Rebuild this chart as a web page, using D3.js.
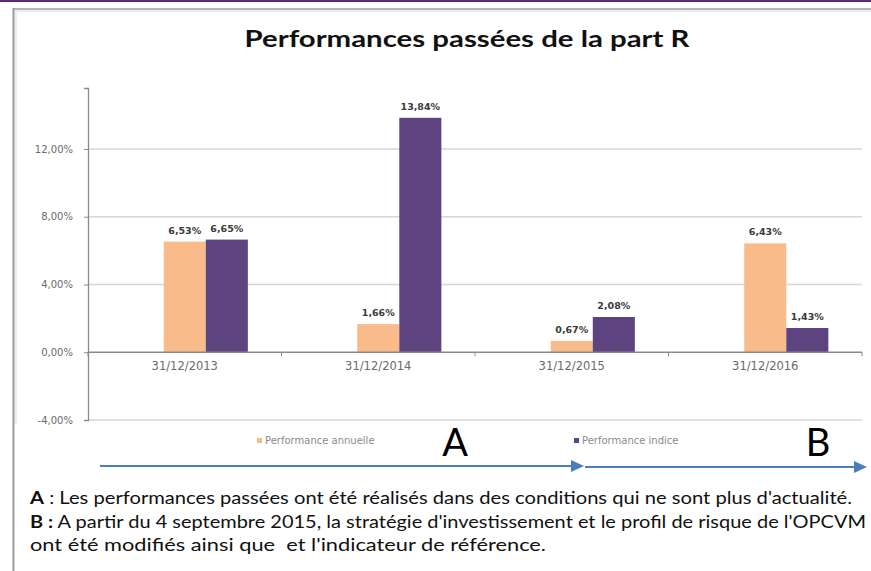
<!DOCTYPE html>
<html><head><meta charset="utf-8">
<script src="https://cdn.jsdelivr.net/npm/d3@7"></script>
<style>body{margin:0;background:#fff}svg{display:block}</style>
</head><body>
<svg id="c" width="871" height="571"></svg>
<script>
const categories = ["31/12/2013", "31/12/2014", "31/12/2015", "31/12/2016"];
const perfAnnuelle = [6.53, 1.66, 0.67, 6.43];
const perfIndice = [6.65, 13.84, 2.08, 1.43];
const seriesNames = ["Performance annuelle", "Performance indice"];
const yTicks = [-4, 0, 4, 8, 12];
const titleText = "Performances passées de la part R";
const notes = [
  ["A", " : Les performances passées ont été réalisés dans des conditions qui ne sont plus d'actualité."],
  ["B :", " A partir du 4 septembre 2015, la stratégie d'investissement et le profil de risque de l'OPCVM"],
  ["", "ont été modifiés ainsi que  et l'indicateur de référence."]
];

const colors = {annuelle: "#f9bb89", indice: "#5d4380"};
const svg = d3.select("#c");
const loc = d3.formatLocale({decimal: ",", thousands: " ", grouping: [3], currency: ["", "€"], minus: "-"});
const fmt = v => loc.format(".2f")(v) + "%";

// top purple band & frame
svg.append("rect").attr("x", 0).attr("y", 0).attr("width", 871).attr("height", 2).attr("fill", "#5a2a80");
svg.append("line").attr("x1", 13).attr("x2", 871).attr("y1", 9).attr("y2", 9).attr("stroke", "#b5b5b5").attr("stroke-width", 2);
svg.append("line").attr("x1", 13).attr("x2", 871).attr("y1", 11).attr("y2", 11).attr("stroke", "#ececec").attr("stroke-width", 2);
svg.append("line").attr("x1", 13.5).attr("x2", 13.5).attr("y1", 8).attr("y2", 571).attr("stroke", "#9a9a9a").attr("stroke-width", 2);
svg.append("line").attr("x1", 16).attr("x2", 16).attr("y1", 10).attr("y2", 424).attr("stroke", "#eeeeee").attr("stroke-width", 2);

// title
svg.append("text").text(titleText)
  .attr("x", 467).attr("y", 47).attr("text-anchor", "middle")
  .attr("font-family", "Lato, 'Open Sans', sans-serif").attr("font-weight", "bold")
  .attr("font-size", 23).attr("fill", "#111")
  .attr("textLength", 445).attr("lengthAdjust", "spacingAndGlyphs");

// scales
const plotL = 88, plotR = 862;
const y = d3.scaleLinear().domain([-4, 15.6]).range([420, 88]);
const x0 = d3.scaleBand().domain(categories).range([plotL, plotR]).paddingInner(0).paddingOuter(0);
const x1 = d3.scaleBand().domain(["_", "annuelle", "indice"]).range([0, x0.bandwidth()]).paddingInner(0).paddingOuter(0.8);

// gridlines
svg.append("g").selectAll("line").data(yTicks.filter(t => t !== 0)).join("line")
  .attr("x1", plotL).attr("x2", plotR)
  .attr("y1", d => y(d)).attr("y2", d => y(d))
  .attr("stroke", "#d6d6d6").attr("stroke-width", 1.5);

// y axis
const yAxis = svg.append("g").attr("transform", `translate(${plotL},0)`)
  .call(d3.axisLeft(y).tickValues(yTicks).tickFormat(fmt).tickSize(4).tickPadding(11));
yAxis.select(".domain").attr("stroke", "#8a8a8a").attr("stroke-width", 1.3);
yAxis.selectAll(".tick line").attr("stroke", "#8a8a8a");
yAxis.selectAll(".tick text").attr("font-family", "'DejaVu Sans', Verdana, sans-serif")
  .attr("font-size", 10).attr("fill", "#6a6a6a");

// bars
const rows = categories.map((c, i) => ({cat: c, annuelle: perfAnnuelle[i], indice: perfIndice[i]}));
const g = svg.append("g");
rows.forEach(r => {
  ["annuelle", "indice"].forEach(k => {
    const v = r[k];
    const bx = x0(r.cat) + x1(k);
    g.append("rect").attr("x", bx).attr("width", x1.bandwidth())
      .attr("y", y(Math.max(0, v))).attr("height", Math.abs(y(v) - y(0)))
      .attr("fill", colors[k]);
    g.append("text").text(fmt(v))
      .attr("x", bx + x1.bandwidth() / 2).attr("y", y(v) - 8)
      .attr("text-anchor", "middle")
      .attr("font-family", "'DejaVu Sans', Verdana, sans-serif").attr("font-weight", "bold")
      .attr("font-size", 9.5).attr("fill", "#3a3a3a");
  });
});

// x axis at 0
svg.append("line").attr("x1", plotL).attr("x2", plotR).attr("y1", y(0)).attr("y2", y(0))
  .attr("stroke", "#8a8a8a").attr("stroke-width", 1.3);
const bounds = categories.map(c => x0(c)).concat([x0.range()[1]]);
svg.append("g").selectAll("line").data(bounds).join("line")
  .attr("x1", d => d).attr("x2", d => d).attr("y1", y(0)).attr("y2", y(0) + 4)
  .attr("stroke", "#8a8a8a");
const xAxis = svg.append("g").attr("transform", `translate(0,${y(0)})`)
  .call(d3.axisBottom(x0).tickSize(0).tickPadding(10));
xAxis.select(".domain").remove();
xAxis.selectAll(".tick text").attr("font-family", "'DejaVu Sans', Verdana, sans-serif")
  .attr("font-size", 11.5).attr("fill", "#6a6a6a");

// legend
const legendX = [257, 574];
["annuelle", "indice"].forEach((k, i) => {
  svg.append("rect").attr("x", legendX[i]).attr("y", 438).attr("width", 5).attr("height", 5).attr("fill", colors[k]);
  svg.append("text").text(seriesNames[i]).attr("x", legendX[i] + 8).attr("y", 444)
    .attr("font-family", "'DejaVu Sans', Verdana, sans-serif").attr("font-size", 10)
    .attr("fill", "#8a8a8a");
});

// big letters
[["A", 455], ["B", 818]].forEach(([t, x]) => {
  svg.append("text").text(t).attr("x", x).attr("y", 456).attr("text-anchor", "middle")
    .attr("font-family", "Lato, 'Open Sans', sans-serif").attr("font-size", 38).attr("fill", "#000");
});

// arrows
const arrowColor = "#4a7ebb";
[[100, 584, 466], [585, 867, 467]].forEach(([xa, xb, yy]) => {
  svg.append("line").attr("x1", xa).attr("x2", xb - 12).attr("y1", yy).attr("y2", yy)
    .attr("stroke", arrowColor).attr("stroke-width", 2);
  svg.append("path").attr("d", `M${xb - 13},${yy - 6}L${xb},${yy}L${xb - 13},${yy + 6}Z`).attr("fill", arrowColor);
});

// notes
const noteY = [504, 528, 551];
const noteW = [822, 836, 516];
notes.forEach((n, i) => {
  const t = svg.append("text").attr("x", 30).attr("y", noteY[i])
    .attr("font-family", "Lato, 'Open Sans', sans-serif").attr("font-size", 16.5).attr("fill", "#111")
    .style("white-space", "pre")
    .attr("textLength", noteW[i]).attr("lengthAdjust", "spacingAndGlyphs");
  if (n[0]) t.append("tspan").attr("font-weight", "bold").text(n[0]);
  t.append("tspan").text(n[1]);
});
</script>
</body></html>
